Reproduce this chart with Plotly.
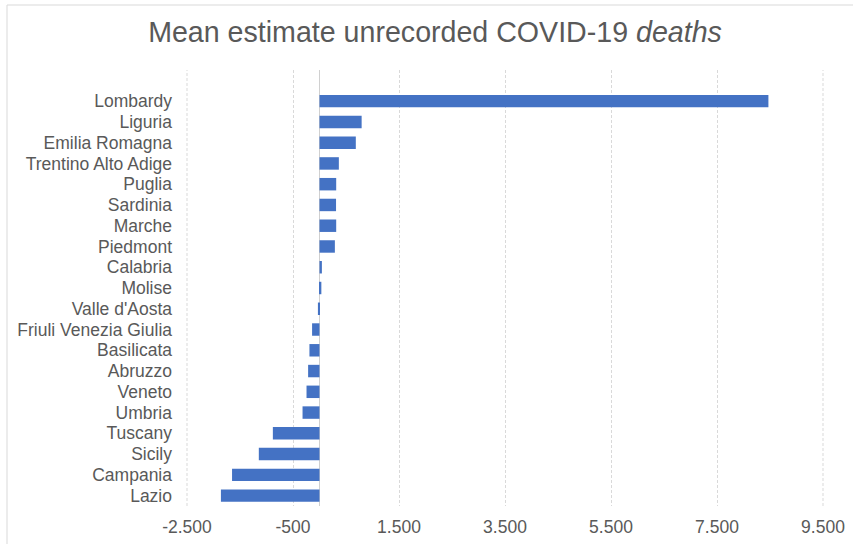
import plotly.graph_objects as go

regions = ["Lombardy", "Liguria", "Emilia Romagna", "Trentino Alto Adige", "Puglia",
           "Sardinia", "Marche", "Piedmont", "Calabria", "Molise", "Valle d'Aosta",
           "Friuli Venezia Giulia", "Basilicata", "Abruzzo", "Veneto", "Umbria",
           "Tuscany", "Sicily", "Campania", "Lazio"]
unrecorded_deaths = [8470, 795, 685, 365, 315, 312, 315, 290, 45, 35, -30,
                     -140, -190, -215, -245, -320, -880, -1145, -1650, -1860]
tick_values = [-2500, -500, 1500, 3500, 5500, 7500, 9500]
tick_labels = ["-2.500", "-500", "1.500", "3.500", "5.500", "7.500", "9.500"]

FONT = "Liberation Sans, Arial, sans-serif"
GREY = "#595959"
GRID = "#d9d9d9"

fig = go.Figure(go.Bar(
    y=regions, x=unrecorded_deaths, orientation="h",
    marker=dict(color="#4472C4", line=dict(width=0)),
))

fig.update_layout(
    template="none",
    width=853, height=544,
    margin=dict(l=187, r=30, t=70, b=38, pad=0),
    paper_bgcolor="white", plot_bgcolor="white",
    bargap=0.4,
    showlegend=False,
    font=dict(family=FONT, size=17.5, color=GREY),
    title=dict(
        text="Mean estimate unrecorded COVID-19 <i>deaths</i>",
        x=0.51, xanchor="center", y=0.941, yanchor="middle", yref="container",
        font=dict(family=FONT, size=28.6, color=GREY),
    ),
    xaxis=dict(
        automargin=False,
        range=[tick_values[0], tick_values[-1]], tickmode="array",
        tickvals=tick_values, ticktext=tick_labels,
        showgrid=True, gridcolor=GRID, griddash="3px,2px", gridwidth=1,
        zeroline=True, zerolinecolor="#d0d0d0", zerolinewidth=1,
        showline=False, ticks="", ticklabelstandoff=8,
        tickfont=dict(size=17.5, color=GREY),
    ),
    yaxis=dict(
        automargin=False,
        autorange=False, range=[19.5, -1.5], categoryorder="array", categoryarray=regions,
        tickmode="array", tickvals=regions, ticktext=regions,
        showgrid=False, zeroline=False, showline=False, ticks="",
        ticklabelstandoff=14, tickfont=dict(size=17.5, color=GREY),
    ),
    shapes=[
        # gridlines at the two axis edges
        dict(type="line", xref="paper", yref="paper", x0=0, x1=0, y0=0, y1=1,
             line=dict(color=GRID, width=1, dash="3px,2px"), layer="below"),
        dict(type="line", xref="paper", yref="paper", x0=1, x1=1, y0=0, y1=1,
             line=dict(color=GRID, width=1, dash="3px,2px"), layer="below"),
        # chart area border (left and top)
        dict(type="line", xref="paper", yref="paper", x0=(7 - 187) / 636, x1=(7 - 187) / 636,
             y0=(506 - 5) / 436, y1=-0.2, line=dict(color=GRID, width=1)),
        dict(type="line", xref="paper", yref="paper", x0=(7 - 187) / 636, x1=1.2,
             y0=(506 - 5) / 436, y1=(506 - 5) / 436, line=dict(color=GRID, width=1)),
    ],
)

fig.write_html("out.html")
